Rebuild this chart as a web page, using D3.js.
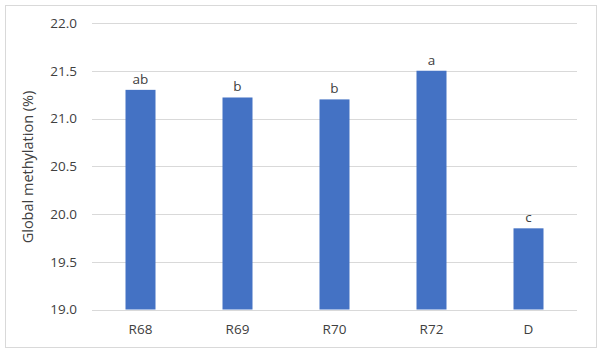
<!DOCTYPE html>
<html><head><meta charset="utf-8">
<script src="https://cdn.jsdelivr.net/npm/d3@7"></script>
<style>body{margin:0;background:#fff;} svg{display:block;font-family:"Open Sans","Noto Sans",sans-serif;}</style>
</head><body>
<svg id="c" width="602" height="353"></svg>
<script>
const categories = ["R68","R69","R70","R72","D"];
const values = [21.30, 21.22, 21.20, 21.50, 19.85];
const letters = ["ab","b","b","a","c"];
const yTicks = [19.0,19.5,20.0,20.5,21.0,21.5,22.0];
const yLabel = "Global methylation (%)";

const svg = d3.select("#c");
svg.append("rect").attr("x",5.5).attr("y",5.5).attr("width",591).attr("height",342)
  .attr("fill","#fff").attr("stroke","#d9d9d9").attr("stroke-width",1);

const plotL=92, plotR=577, plotT=23, plotB=309.5;
const x = d3.scaleBand().domain(categories).range([plotL,plotR]);
const y = d3.scaleLinear().domain([19,22]).range([plotB,plotT]);

svg.append("g").selectAll("line").data(yTicks).join("line")
  .attr("x1",plotL).attr("x2",plotR)
  .attr("y1",d=>Math.round(y(d))+0.5).attr("y2",d=>Math.round(y(d))+0.5)
  .attr("stroke","#d9d9d9").attr("stroke-width",1);

svg.append("g").selectAll("text").data(yTicks).join("text")
  .attr("x",77).attr("y",d=>y(d)+4.8).attr("text-anchor","end")
  .attr("font-size",13.5).attr("fill","#404040").text(d=>d.toFixed(1));

const bw = 30;
svg.append("g").selectAll("rect").data(values).join("rect")
  .attr("x",(d,i)=>x(categories[i])+x.bandwidth()/2-bw/2)
  .attr("width",bw)
  .attr("y",d=>y(d)).attr("height",d=>y(19)-y(d))
  .attr("fill","#4472C4");

svg.append("g").selectAll("text").data(values).join("text")
  .attr("x",(d,i)=>x(categories[i])+x.bandwidth()/2)
  .attr("y",d=>y(d)-6).attr("text-anchor","middle")
  .attr("font-size",13.5).attr("fill","#404040").text((d,i)=>letters[i]);

svg.append("g").selectAll("text").data(categories).join("text")
  .attr("x",d=>x(d)+x.bandwidth()/2).attr("y",334)
  .attr("text-anchor","middle").attr("font-size",13.5).attr("fill","#404040").text(d=>d);

svg.append("text").attr("transform",`translate(33,167) rotate(-90)`)
  .attr("text-anchor","middle").attr("font-size",14.5).attr("fill","#404040").text(yLabel);
</script>
</body></html>
